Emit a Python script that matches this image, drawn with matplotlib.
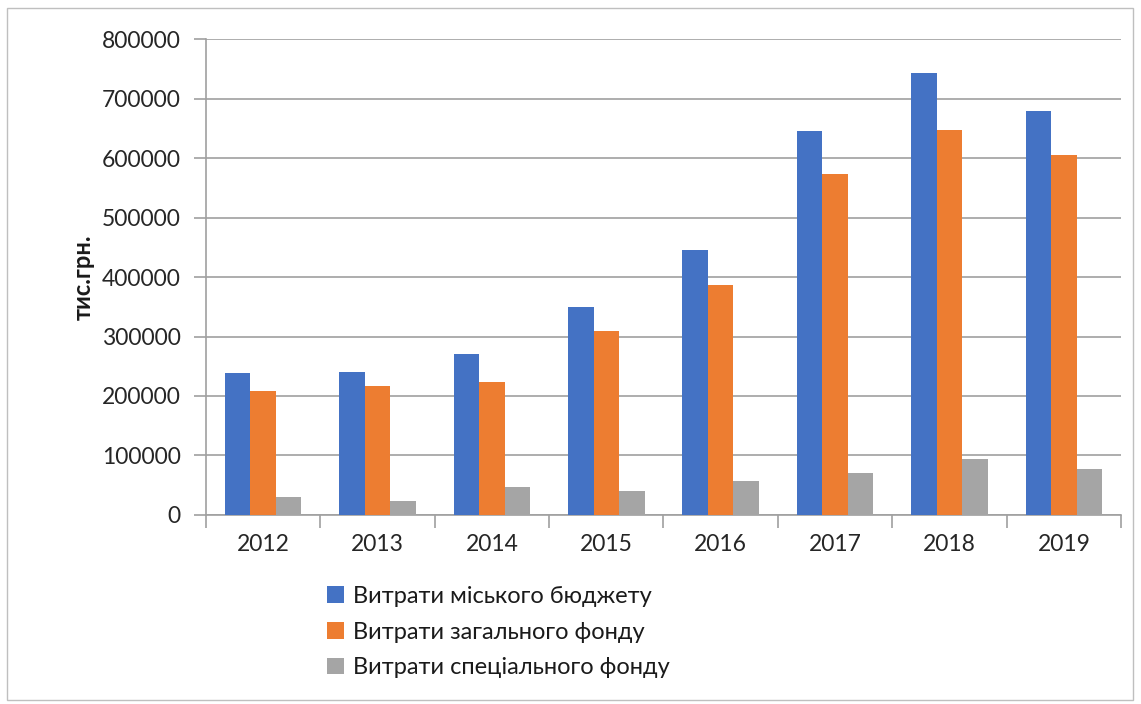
import matplotlib
matplotlib.use("Agg")
import matplotlib.pyplot as plt
import numpy as np
from matplotlib.patches import Rectangle

plt.rcParams['font.family'] = ['Lato', 'DejaVu Sans']

# data (тис.грн.)
years = ["2012", "2013", "2014", "2015", "2016", "2017", "2018", "2019"]
city_budget = [238700, 240000, 270600, 349600, 445400, 645400, 742900, 679000]
general_fund = [208400, 216800, 223500, 309200, 386500, 573100, 647000, 605000]
special_fund = [30000, 23500, 47000, 40300, 57000, 70600, 94100, 77300]
series_names = ["Витрати міського бюджету", "Витрати загального фонду",
                "Витрати спеціального фонду"]
colors = ["#4472c4", "#ed7d31", "#a5a5a5"]

fig = plt.figure(figsize=(11.41, 7.04), dpi=100)
ax = fig.add_axes([0.1805, 0.2685, 0.802, 0.676])

x = np.arange(len(years))
w = 0.223
for i, (vals, name, c) in enumerate(zip([city_budget, general_fund, special_fund],
                                         series_names, colors)):
    ax.bar(x + (i - 1) * w, vals, width=w, color=c, label=name, zorder=3)

ax.set_xlim(-0.5, len(years) - 0.5)
ax.set_ylim(0, 800000)
ax.set_yticks(np.arange(0, 800001, 100000))
ax.yaxis.grid(True, color="#a0a0a0", lw=1.2, zorder=0)

# category ticks sit on the boundaries, labels in the middle
ax.set_xticks(np.arange(-0.5, len(years)), minor=False)
ax.set_xticklabels([])
ax.set_xticks(x, minor=True)
ax.set_xticklabels(years, minor=True)
ax.tick_params(axis="x", which="major", length=9, color="#a0a0a0", width=1.2)
ax.tick_params(axis="x", which="minor", length=0, pad=14, labelsize=16.5, labelcolor="#262626")
ax.tick_params(axis="y", length=9, color="#a0a0a0", width=1.2, pad=9,
               labelsize=16.5, labelcolor="#262626")

for s in ["top", "right"]:
    ax.spines[s].set_visible(False)
for s in ["left", "bottom"]:
    ax.spines[s].set_color("#a0a0a0")
    ax.spines[s].set_linewidth(1.2)

ax.set_ylabel("тис.грн.", fontsize=17, fontweight="bold", labelpad=5, color="#1a1a1a")

fig.legend(loc="upper left", bbox_to_anchor=(0.2785, 0.181), frameon=False,
           fontsize=17, handlelength=0.7, handleheight=0.7, handletextpad=0.4,
           labelspacing=0.62, borderaxespad=0, labelcolor="#1a1a1a")

fig.patches.append(Rectangle((7 / 1141, 4 / 704), 1126 / 1141, 692 / 704,
                             transform=fig.transFigure, fill=False,
                             edgecolor="#bfbfbf", lw=1))

fig.savefig("out.png", dpi=100)
